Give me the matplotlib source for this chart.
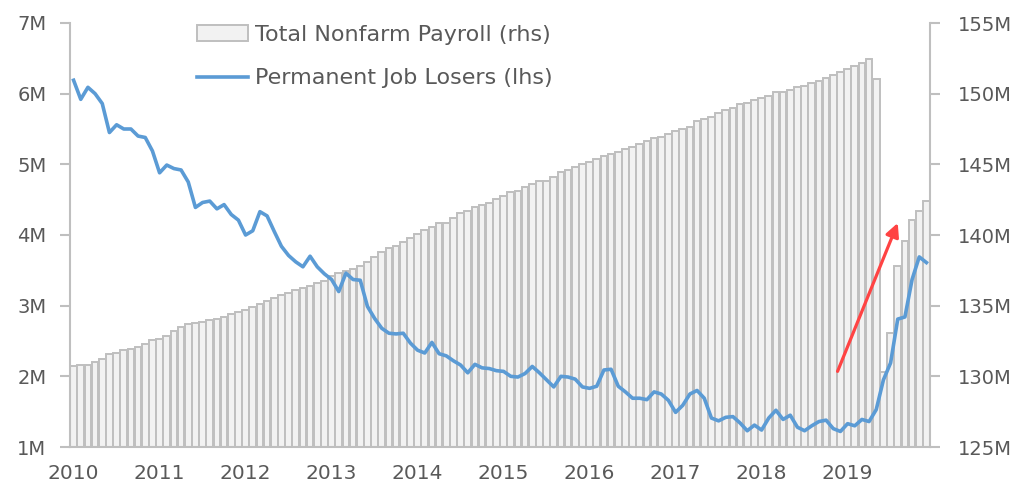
import numpy as np
import matplotlib
matplotlib.use('Agg')
from matplotlib import pyplot as plt

# year labels (one every 12 months)
years = ['2010', '2011', '2012', '2013', '2014', '2015', '2016', '2017', '2018', '2019']

# Total Nonfarm Payroll, millions (rhs)
payroll = [
    130.73, 130.80, 130.82, 131.01, 131.25, 131.56, 131.65, 131.88, 131.96, 132.08,
    132.29, 132.54, 132.64, 132.85, 133.21, 133.47, 133.70, 133.77, 133.84, 133.96,
    134.09, 134.22, 134.38, 134.55, 134.71, 134.91, 135.12, 135.34, 135.56, 135.73,
    135.92, 136.09, 136.25, 136.36, 136.57, 136.75, 137.10, 137.28, 137.42, 137.59,
    137.81, 138.09, 138.44, 138.80, 139.06, 139.24, 139.53, 139.77, 140.07, 140.35,
    140.55, 140.83, 140.87, 141.18, 141.54, 141.70, 142.00, 142.10, 142.24, 142.53,
    142.76, 143.06, 143.14, 143.38, 143.61, 143.80, 143.84, 144.10, 144.44, 144.60,
    144.83, 145.00, 145.17, 145.38, 145.59, 145.75, 145.89, 146.06, 146.21, 146.42,
    146.63, 146.84, 146.91, 147.13, 147.36, 147.50, 147.66, 148.05, 148.21, 148.35,
    148.65, 148.87, 149.01, 149.25, 149.34, 149.53, 149.67, 149.84, 150.10, 150.10,
    150.26, 150.47, 150.56, 150.73, 150.92, 151.11, 151.34, 151.53, 151.77, 151.98,
    152.17, 152.43, 151.06, 130.33, 133.07, 137.81, 139.58, 141.06, 141.72, 142.41,
]

# Permanent Job Losers, millions (lhs)
job_losers = [
    6.19, 5.92, 6.09, 6.00, 5.86, 5.45, 5.56, 5.50, 5.50, 5.40,
    5.38, 5.19, 4.88, 4.99, 4.94, 4.92, 4.75, 4.39, 4.46, 4.48,
    4.37, 4.43, 4.29, 4.21, 4.00, 4.06, 4.33, 4.27, 4.05, 3.84,
    3.71, 3.62, 3.55, 3.70, 3.55, 3.45, 3.37, 3.20, 3.46, 3.37,
    3.36, 2.99, 2.82, 2.68, 2.61, 2.60, 2.61, 2.47, 2.37, 2.33,
    2.48, 2.32, 2.29, 2.22, 2.16, 2.05, 2.17, 2.12, 2.11, 2.08,
    2.07, 2.00, 1.99, 2.04, 2.14, 2.05, 1.95, 1.85, 2.00, 1.99,
    1.96, 1.85, 1.83, 1.86, 2.09, 2.10, 1.86, 1.78, 1.69, 1.69,
    1.67, 1.78, 1.75, 1.66, 1.49, 1.59, 1.75, 1.80, 1.69, 1.41,
    1.37, 1.42, 1.43, 1.34, 1.23, 1.31, 1.24, 1.41, 1.52, 1.39,
    1.45, 1.28, 1.23, 1.30, 1.36, 1.38, 1.26, 1.22, 1.33, 1.30,
    1.39, 1.36, 1.53, 1.95, 2.19, 2.81, 2.84, 3.37, 3.69, 3.61,
]

# red arrow (x in month index, y in lhs millions)
arrow_start = (106.6, 2.07)
arrow_end = (115.0, 4.17)

plt.rcParams['font.family'] = 'DejaVu Sans'
plt.rcParams['font.size'] = 14
text_grey = '#595959'
axis_grey = '#bfbfbf'

fig = plt.figure(figsize=(10.15, 4.9), dpi=100)
ax = fig.add_axes([70 / 1015, 43 / 490, 860 / 1015, 424 / 490])
axr = ax.twinx()
# line on top of the bars
ax.set_zorder(axr.get_zorder() + 1)
ax.patch.set_visible(False)

x = np.arange(len(payroll))
bars = axr.bar(x, payroll, width=0.92, color='#f2f2f2', edgecolor=axis_grey,
               linewidth=1.4, label='Total Nonfarm Payroll (rhs)')
line, = ax.plot(x, job_losers, color='#5b9bd5', lw=2.6, solid_joinstyle='round',
                label='Permanent Job Losers (lhs)')

ax.annotate('', xy=arrow_end, xytext=arrow_start,
            arrowprops=dict(arrowstyle='-|>', color='#ff4343', lw=2.3,
                            mutation_scale=20, shrinkA=0, shrinkB=0))

# scales
ax.set_xlim(-0.5, len(payroll) - 0.5)
ax.set_ylim(1, 7)
axr.set_ylim(125, 155)

ax.set_yticks(range(1, 8))
ax.set_yticklabels([f'{v}M' for v in range(1, 8)])
axr.set_yticks(range(125, 156, 5))
axr.set_yticklabels([f'{v}M' for v in range(125, 156, 5)])
ax.set_xticks(range(0, len(payroll), 12))
ax.set_xticklabels(years, fontsize=14.5)

# spines
for s in ['top', 'right']:
    ax.spines[s].set_visible(False)
for s in ['top', 'left', 'bottom']:
    axr.spines[s].set_visible(False)
for s in ['left', 'bottom']:
    ax.spines[s].set_color(axis_grey)
    ax.spines[s].set_linewidth(1.5)
axr.spines['right'].set_color(axis_grey)
axr.spines['right'].set_linewidth(1.5)

ax.tick_params(axis='y', length=7, width=1.5, color=axis_grey, labelcolor=text_grey, pad=10)
ax.tick_params(axis='x', length=0, labelcolor=text_grey, pad=12)
axr.tick_params(axis='y', length=7, width=1.5, color=axis_grey, labelcolor=text_grey, pad=13)

ax.legend(handles=[bars, line], loc='upper left', fontsize=16,
          bbox_to_anchor=(197 / 1015, 1 - 25 / 490), bbox_transform=fig.transFigure,
          frameon=False, handlelength=2.3, handleheight=0.7, handletextpad=0.3,
          labelspacing=1.05, borderpad=0, borderaxespad=0, labelcolor=text_grey)

fig.savefig('out.png', dpi=100)
plt.close()
